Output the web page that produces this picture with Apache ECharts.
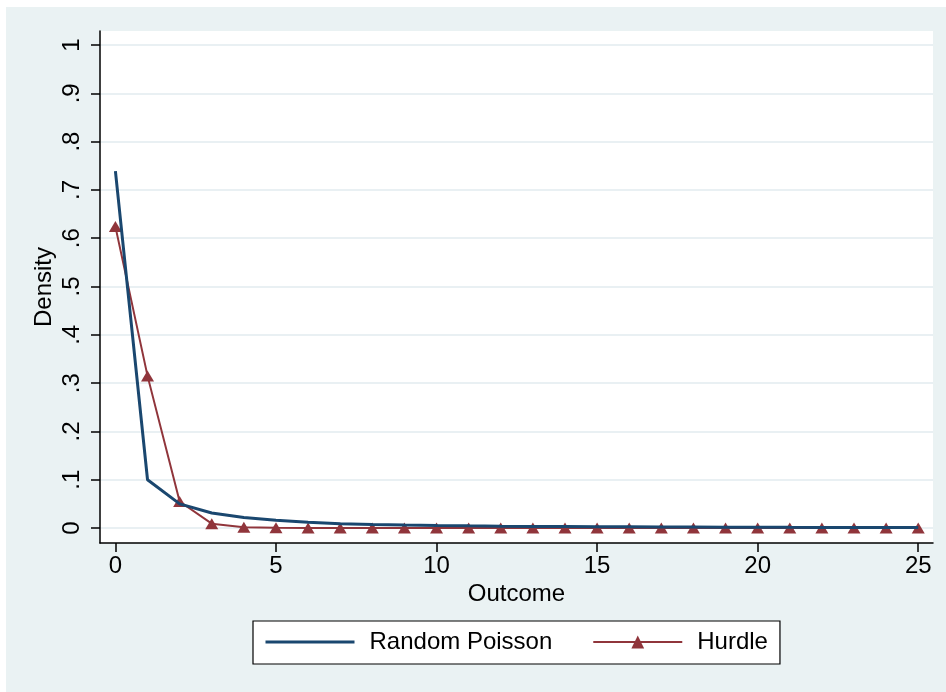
<!DOCTYPE html>
<html>
<head>
<meta charset="utf-8">
<script src="https://cdn.jsdelivr.net/npm/echarts@6/dist/echarts.min.js"></script>
<style>
html,body{margin:0;padding:0;background:#ffffff;}
#chart{width:946px;height:692px;}
</style>
</head>
<body>
<div id="chart"></div>
<script>
// Data
const outcomes = [0,1,2,3,4,5,6,7,8,9,10,11,12,13,14,15,16,17,18,19,20,21,22,23,24,25];
const randomPoisson = [0.739,0.100,0.050,0.031,0.022,0.016,0.012,0.009,0.0075,0.0063,0.0053,0.0045,0.0039,0.0034,0.003,0.0027,0.0024,0.0021,0.0019,0.0017,0.0016,0.0014,0.0013,0.0012,0.0011,0.001];
const hurdle = [0.624,0.315,0.055,0.009,0.0015,0.0004,0.0001,0,0,0,0,0,0,0,0,0,0,0,0,0,0,0,0,0,0,0];
const yTicks = [0,0.1,0.2,0.3,0.4,0.5,0.6,0.7,0.8,0.9,1];
const yTickLabels = ['0','.1','.2','.3','.4','.5','.6','.7','.8','.9','1'];
const xTicks = [0,5,10,15,20,25];
const seriesNames = ['Random Poisson','Hurdle'];

const FONT = 'Liberation Sans, Arial, Helvetica, sans-serif';
const FS = 24;
const chart = echarts.init(document.getElementById('chart'), null, {renderer:'canvas'});

const option = {
  backgroundColor: '#ffffff',
  animation: false,
  graphic: [{
    type: 'rect', z: -10, silent: true,
    shape: {x: 6, y: 7, width: 940, height: 685},
    style: {fill: '#eaf2f3'}
  }, {
    type: 'rect', z: -9, silent: true,
    shape: {x: 100, y: 31, width: 833, height: 512},
    style: {fill: '#ffffff'}
  }],
  grid: {left: 100, right: 13, top: 31, bottom: 149, containLabel: false},
  xAxis: {
    type: 'value',
    min: -0.48, max: 25.46,
    name: 'Outcome',
    nameLocation: 'middle',
    nameGap: 39,
    nameMoveOverlap: false,
    nameTextStyle: {fontFamily: FONT, fontSize: FS, color: '#000', verticalAlign: 'top'},
    axisLine: {show: true, onZero: false, lineStyle: {color: '#000', width: 1.5}},
    axisTick: {show: true, length: 9, lineStyle: {color: '#000', width: 1.5}, customValues: xTicks},
    axisLabel: {fontFamily: FONT, fontSize: FS, color: '#000', margin: 11, customValues: xTicks,
      formatter: v => String(Math.round(v))},
    splitLine: {show: false}
  },
  yAxis: {
    type: 'value',
    min: -0.031, max: 1.029,
    name: 'Density',
    nameLocation: 'middle',
    nameRotate: 90,
    nameGap: 44,
    nameMoveOverlap: false,
    nameTextStyle: {fontFamily: FONT, fontSize: FS, color: '#000'},
    axisLine: {show: true, onZero: false, lineStyle: {color: '#000', width: 1.5}},
    axisTick: {show: true, length: 9, lineStyle: {color: '#000', width: 1.5}, customValues: yTicks},
    axisLabel: {fontFamily: FONT, fontSize: FS, color: '#000', margin: 16, rotate: 90, customValues: yTicks,
      formatter: v => { const i = yTicks.findIndex(t => Math.abs(t - v) < 1e-6); return i >= 0 ? yTickLabels[i] : ''; }},
    splitLine: {show: true, lineStyle: {color: '#e9f0f3', width: 2}}
  },
  legend: {
    left: 253, top: 621,
    orient: 'horizontal',
    backgroundColor: '#ffffff',
    borderColor: '#000',
    borderWidth: 1.2,
    borderRadius: 0,
    padding: [8, 12, 9, 11],
    itemGap: 40,
    itemWidth: 89,
    itemHeight: 16,
    data: [
      {name: seriesNames[0], itemStyle: {opacity: 0}, lineStyle: {width: 3}},
      {name: seriesNames[1], lineStyle: {width: 2}}
    ],
    textStyle: {fontFamily: FONT, fontSize: FS, color: '#000', padding: [0, 0, 0, 10], lineHeight: 26}
  },
  series: [{
    name: seriesNames[0],
    type: 'line',
    data: outcomes.map((x, i) => [x, randomPoisson[i]]),
    showSymbol: false,
    symbol: 'none',
    lineStyle: {color: '#1a476f', width: 3},
    itemStyle: {color: '#1a476f'},
    z: 3
  }, {
    name: seriesNames[1],
    type: 'line',
    data: outcomes.map((x, i) => [x, hurdle[i]]),
    symbol: 'triangle',
    symbolSize: [13, 11],
    showSymbol: true,
    lineStyle: {color: '#90353b', width: 2},
    itemStyle: {color: '#90353b'},
    z: 2
  }]
};
chart.setOption(option);
</script>
</body>
</html>
